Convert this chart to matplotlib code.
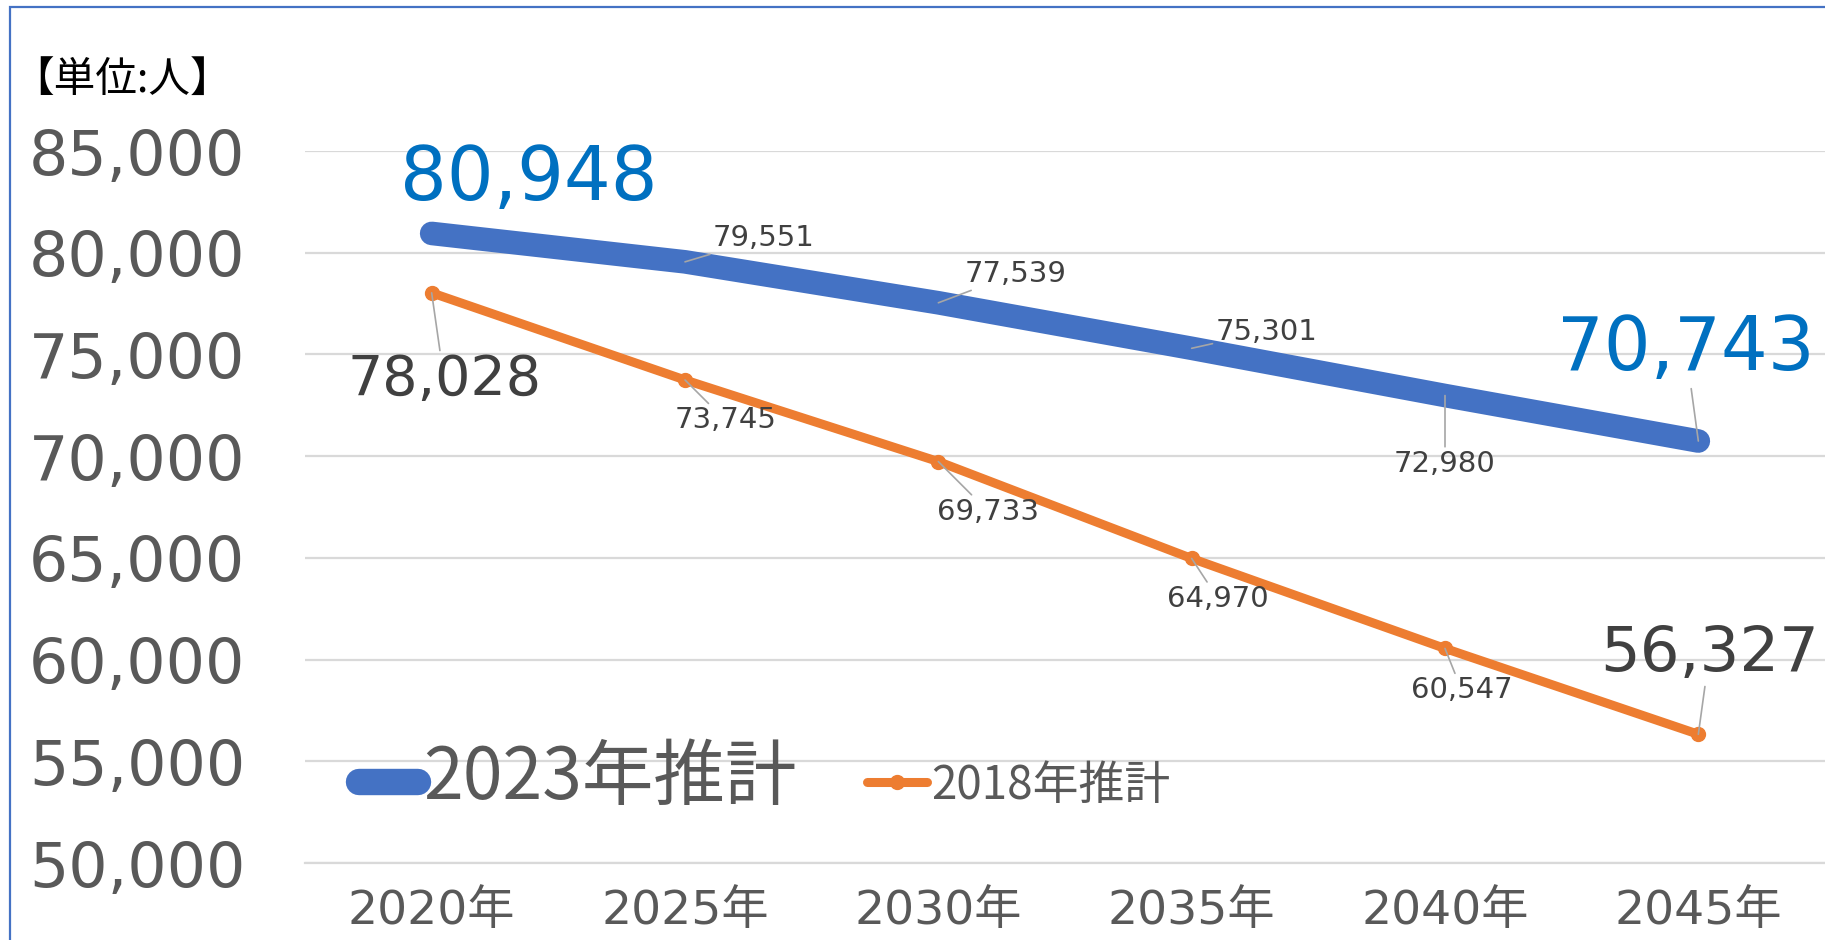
import matplotlib
matplotlib.use("Agg")
import matplotlib.pyplot as plt
from matplotlib.patches import Rectangle
from matplotlib.lines import Line2D

# --- data ---
years = ["2020年", "2025年", "2030年", "2035年", "2040年", "2045年"]
est_2023 = [80948, 79551, 77539, 75301, 72980, 70743]
est_2018 = [78028, 73745, 69733, 64970, 60547, 56327]
yticks = [50000, 55000, 60000, 65000, 70000, 75000, 80000, 85000]

# label offsets (points from the data point), sizes
off_2023 = [(70, 39), (20, 17), (19, 21), (17, 12), (0, -49), (-9, 66)]
ha_2023 = ["center", "left", "left", "left", "center", "center"]
size_2023 = [53, 21, 21, 21, 21, 53]
off_2018 = [(9, -63), (29, -29), (36, -36), (19, -29), (12, -30), (8, 58)]
size_2018 = [40, 21, 21, 21, 21, 45]

NUM_FONT = ["DejaVu Sans", "Noto Sans CJK JP"]
JP_FONT = ["Noto Sans CJK JP", "DejaVu Sans"]
BLUE = "#4472C4"
ORANGE = "#ED7D31"
LABEL_BLUE = "#0070C0"
DARK = "#404040"
TICK = "#595959"
LEADER = "#A6A6A6"

plt.rcParams["font.family"] = NUM_FONT

fig = plt.figure(figsize=(18.25, 9.4), dpi=100)
ax = fig.add_axes([305 / 1825, 77 / 940, 1 - 305 / 1825, 712 / 940])

x = list(range(len(years)))
ax.plot(x, est_2023, color=BLUE, lw=17, solid_capstyle="round",
        solid_joinstyle="round", zorder=3, clip_on=False)
ax.plot(x, est_2018, color=ORANGE, lw=6.5, marker="o", ms=10,
        solid_capstyle="round", zorder=3, clip_on=False)

ax.set_xlim(-0.5, 5.5)
ax.set_ylim(50000, 85000)
ax.set_yticks(yticks)
ax.set_yticklabels([f"{v:,}" for v in yticks])
ax.set_xticks(x)
ax.set_xticklabels(years)
ax.tick_params(axis="y", length=0, pad=43, labelsize=44.5, labelcolor=TICK)
ax.tick_params(axis="x", length=0, pad=19, labelsize=34, labelcolor=TICK)
ax.grid(axis="y", color="#D9D9D9", lw=1.6)
ax.set_axisbelow(True)
for s in ["top", "right", "left"]:
    ax.spines[s].set_visible(False)
ax.spines["bottom"].set_color("#D9D9D9")
ax.spines["bottom"].set_linewidth(1.6)

arrow = dict(arrowstyle="-", color=LEADER, lw=1.2, shrinkA=0, shrinkB=0)

for i, v in enumerate(est_2023):
    big = size_2023[i] > 30
    ax.annotate(f"{v:,}", (i, v), xytext=off_2023[i], textcoords="offset points",
                ha=ha_2023[i], va="center", fontsize=size_2023[i],
                color=LABEL_BLUE if big else DARK,
                arrowprops=None if i == 0 else arrow,
                zorder=5, annotation_clip=False)

for i, v in enumerate(est_2018):
    ax.annotate(f"{v:,}", (i, v), xytext=off_2018[i], textcoords="offset points",
                ha="center", va="center", fontsize=size_2018[i], color=DARK,
                arrowprops=arrow, zorder=5, annotation_clip=False)

# unit label
fig.text(12 / 1825, 1 - 80 / 940, "【単位:人】", family=JP_FONT, fontsize=30,
         color="black", va="center", ha="left")

# legend
h1 = Line2D([], [], color=BLUE, lw=19, solid_capstyle="round")
h2 = Line2D([], [], color=ORANGE, lw=6.5, marker="o", ms=10, solid_capstyle="round")
leg = fig.legend([h1, h2], ["2023年推計", "2018年推計"], loc="center left",
                 bbox_to_anchor=(0.174, 1 - 778 / 940), ncol=2, frameon=False,
                 prop={"family": JP_FONT, "size": 33}, handlelength=1.3,
                 handletextpad=0.1, columnspacing=1.55, markerscale=1)
leg.get_texts()[0].set_fontsize(51.5)
for t in leg.get_texts():
    t.set_color(TICK)

# outer border (only left and top visible in the frame)
fig.patches.append(Rectangle((10 / 1825, -0.1), 1.2, 1.1 - 7 / 940,
                             transform=fig.transFigure, fill=False,
                             edgecolor=BLUE, lw=1.6, zorder=10))

fig.savefig("out.png", dpi=100)
